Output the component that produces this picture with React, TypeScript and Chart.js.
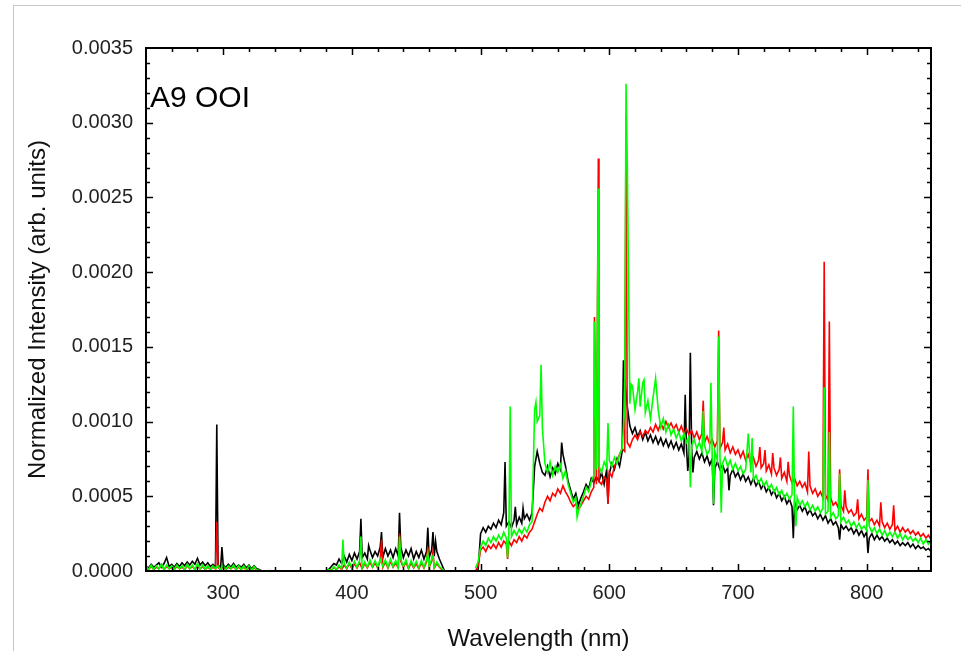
import React, { useEffect, useRef } from 'react';
import { Chart, registerables } from 'chart.js';

Chart.register(...registerables);

// ---------- data (intensity values in units of 1e-4) ----------
const UNIT = 1e-4;
const STEP_NM = 2;

const SEG_A_START = 240; // 240..330 nm
const SEG_B_START = 380; // 380..472 nm
const SEG_C_START = 496; // 496..850 nm

const BLACK_A = [
  0.3, 0.2, 0.45, 0.25, 0.4, 0.55, 0.25, 0.5, 0.9, 0.3,
  0.45, 0.25, 0.5, 0.3, 0.55, 0.35, 0.6, 0.4, 0.65, 0.45,
  0.85, 0.4, 0.6, 0.35, 0.55, 0.3, 0.45, 0.25, 0.4, 0.25,
  0.4, 0.25, 0.45, 0.25, 0.5, 0.25, 0.4, 0.25, 0.45, 0.2,
  0.4, 0.15, 0.35, 0.15, 0.1, 0,
];
const RED_A = [
  0.2, 0.1, 0.3, 0.1, 0.25, 0.15, 0.35, 0.1, 0.3, 0.15,
  0.25, 0.1, 0.3, 0.15, 0.25, 0.1, 0.35, 0.15, 0.3, 0.1,
  0.35, 0.15, 0.3, 0.1, 0.25, 0.1, 0.25, 0.15, 0.25, 0.1,
  0.3, 0.1, 0.25, 0.15, 0.3, 0.1, 0.25, 0.1, 0.25, 0.05,
  0.25, 0.05, 0.2, 0.05, 0.05, 0,
];
const GREEN_A = [
  0.3, 0.1, 0.4, 0.1, 0.35, 0.15, 0.45, 0.1, 0.4, 0.15,
  0.35, 0.1, 0.4, 0.15, 0.35, 0.1, 0.45, 0.15, 0.4, 0.1,
  0.5, 0.15, 0.4, 0.1, 0.35, 0.1, 0.35, 0.15, 0.35, 0.1,
  0.4, 0.1, 0.35, 0.15, 0.4, 0.1, 0.35, 0.1, 0.35, 0.05,
  0.35, 0.05, 0.3, 0.05, 0.05, 0,
];

const BLACK_B = [
  0, 0.1, 0.3, 0.5, 0.4, 0.8, 0.5, 1.0, 0.6, 1.1,
  0.7, 1.2, 0.8, 1.3, 0.9, 1.2, 0.8, 1.4, 0.9, 1.3,
  1.0, 1.6, 0.9, 1.5, 1.0, 1.4, 0.9, 1.5, 1.0, 1.6,
  0.9, 1.4, 1.0, 1.5, 0.8, 1.3, 0.9, 1.4, 0.8, 1.3,
  0.9, 1.4, 1.0, 1.3, 0.8, 0.4, 0,
];
const RED_B = [
  0, 0.08, 0.04, 0.25, 0.08, 0.3, 0.1, 0.4, 0.15, 0.5,
  0.15, 0.5, 0.2, 0.55, 0.15, 0.5, 0.2, 0.6, 0.25, 0.55,
  0.2, 0.65, 0.25, 0.6, 0.2, 0.65, 0.25, 0.55, 0.2, 0.65,
  0.25, 0.6, 0.15, 0.55, 0.2, 0.5, 0.15, 0.55, 0.2, 0.6,
  0.25, 0.65, 0.2, 0.5, 0.25, 0.1, 0,
];
const GREEN_B = [
  0, 0.1, 0.05, 0.3, 0.1, 0.4, 0.15, 0.5, 0.2, 0.6,
  0.2, 0.65, 0.25, 0.7, 0.2, 0.6, 0.25, 0.75, 0.3, 0.7,
  0.25, 0.8, 0.3, 0.75, 0.25, 0.8, 0.3, 0.7, 0.25, 0.8,
  0.3, 0.75, 0.2, 0.7, 0.25, 0.65, 0.2, 0.7, 0.25, 0.75,
  0.3, 0.8, 0.25, 0.6, 0.3, 0.15, 0,
];

const BLACK_C = [
  0, 0,
  2.5, 2.9, 2.6, 3.0, 2.8, 3.2, 2.9, 3.4, 3.1, 3.9,
  3.0, 3.3, 2.9, 3.4, 3.1, 3.6, 3.2, 3.5, 3.8, 3.4,
  3.9, 7.0, 8.0, 7.2, 6.6, 6.4, 7.0, 6.3, 6.9, 6.5,
  7.2, 6.8, 7.8, 7.0, 6.0, 5.4, 4.8, 5.2, 4.4, 4.9,
  5.3, 5.8, 5.5, 6.2, 5.9, 6.3, 6.0, 6.6, 5.8, 6.8,
  6.5, 7.2, 6.8, 7.5, 7.0, 8.0, 12.8, 11.0, 9.7, 9.2,
  9.6, 9.0, 9.4, 8.8, 9.3, 8.7, 9.1, 8.6, 9.0, 8.5,
  8.9, 8.4, 8.8, 8.3, 8.7, 8.2, 8.6, 8.1, 8.5, 7.9,
  8.3, 7.8, 8.2, 7.6, 8.0, 7.5, 7.9, 7.3, 7.7, 7.1,
  7.5, 6.9, 7.3, 6.8, 7.1, 6.6, 6.9, 6.4, 6.8, 6.3,
  6.6, 6.1, 6.5, 6.0, 6.3, 5.8, 6.2, 5.7, 6.0, 5.5,
  5.8, 5.3, 5.6, 5.1, 5.4, 4.9, 5.2, 4.7, 5.0, 4.5,
  4.8, 4.3, 4.6, 4.1, 4.4, 4.0, 4.3, 3.8, 4.1, 3.7,
  3.9, 3.5, 3.8, 3.4, 3.7, 3.2, 3.5, 3.1, 3.3, 2.9,
  3.1, 2.8, 3.0, 2.7, 2.9, 2.5, 2.8, 2.4, 2.7, 2.3,
  2.6, 2.2, 2.5, 2.1, 2.4, 2.1, 2.3, 2.0, 2.2, 1.9,
  2.1, 1.8, 2.0, 1.7, 1.9, 1.7, 1.9, 1.6, 1.8, 1.5,
  1.7, 1.5, 1.6, 1.4, 1.5,
  1.3,
];
const RED_C = [
  0, 0.3,
  1.4, 1.6, 1.3, 1.7, 1.5, 1.8, 1.5, 1.9, 1.6, 2.0,
  1.8, 2.0, 1.7, 2.1, 1.9, 2.3, 2.0, 2.4, 2.2, 2.6,
  2.8, 3.3, 3.8, 4.2, 4.0, 4.6, 5.0, 4.7, 5.2, 5.0,
  5.5, 5.2, 5.7, 5.3, 5.0, 4.6, 4.3, 4.5, 4.1, 4.4,
  4.7, 5.0, 4.8, 5.3, 5.6, 5.8, 6.0, 5.8, 6.3, 6.1,
  6.6, 6.3, 7.0, 7.4, 7.8, 8.2, 8.0, 8.6, 8.3, 8.8,
  9.1, 8.8, 9.3, 9.0, 9.4, 9.2, 9.6, 9.3, 9.8, 9.4,
  9.9, 9.5, 10.0, 9.6, 9.9, 9.5, 9.8, 9.3, 9.7, 9.2,
  9.5, 9.1, 9.4, 8.9, 9.3, 8.8, 9.2, 8.6, 9.0, 8.5,
  8.8, 8.3, 8.7, 8.2, 8.6, 8.1, 8.5, 7.9, 8.3, 7.8,
  8.1, 7.6, 8.0, 7.4, 7.8, 7.2, 7.6, 7.0, 7.4, 6.9,
  7.2, 6.7, 7.1, 6.5, 6.9, 6.4, 6.8, 6.2, 6.6, 6.0,
  6.4, 5.9, 6.2, 5.7, 6.0, 5.6, 5.9, 5.3, 5.7, 5.2,
  5.5, 5.0, 5.3, 4.9, 5.1, 4.7, 4.9, 4.4, 4.6, 4.2,
  4.4, 4.0, 4.3, 3.9, 4.1, 3.7, 3.9, 3.5, 3.8, 3.4,
  3.6, 3.3, 3.5, 3.1, 3.4, 3.0, 3.3, 2.9, 3.2, 2.8,
  3.1, 2.7, 3.0, 2.6, 2.9, 2.6, 2.8, 2.5, 2.7, 2.4,
  2.6, 2.3, 2.5, 2.2, 2.4,
  2.1,
];
const GREEN_C = [
  0.2, 0.6,
  1.6, 2.0, 1.7, 2.2, 1.9, 2.3, 2.0, 2.4, 2.1, 2.6,
  2.2, 2.6, 2.3, 2.7, 2.4, 2.8, 2.5, 2.9, 2.6, 3.1,
  3.3, 10.8, 10.0, 10.4, 9.6, 7.2, 6.6, 7.3, 6.4, 7.0,
  6.6, 7.1, 6.2, 6.7, 5.8, 5.2, 4.6, 4.9, 4.0, 4.5,
  5.0, 5.6, 5.3, 6.0, 6.4, 6.8, 7.0, 6.6, 7.3, 6.9,
  7.4, 7.0, 7.6, 7.2, 7.8, 8.2, 11.0, 12.0, 11.2, 12.4,
  10.8, 12.0, 11.0, 12.6, 10.6, 11.4, 10.2, 11.6, 10.0, 10.8,
  9.6, 10.2, 9.3, 9.8, 9.1, 9.5, 8.9, 9.3, 8.7, 9.2,
  8.6, 9.0, 8.4, 8.8, 8.2, 8.6, 8.0, 8.4, 7.8, 8.1,
  7.6, 8.0, 7.4, 7.8, 7.2, 7.6, 7.0, 7.4, 6.8, 7.2,
  6.7, 7.0, 6.5, 6.8, 6.3, 6.6, 6.1, 6.4, 5.9, 6.2,
  5.7, 6.0, 5.5, 5.8, 5.3, 5.6, 5.1, 5.4, 4.9, 5.2,
  4.8, 5.1, 4.6, 4.9, 4.4, 4.7, 4.3, 4.6, 4.1, 4.4,
  4.0, 4.3, 3.9, 4.2, 3.8, 4.0, 3.6, 3.9, 3.5, 3.7,
  3.3, 3.6, 3.2, 3.4, 3.0, 3.3, 2.9, 3.2, 2.8, 3.0,
  2.7, 3.0, 2.6, 2.9, 2.5, 2.8, 2.4, 2.7, 2.3, 2.6,
  2.3, 2.6, 2.2, 2.5, 2.1, 2.4, 2.1, 2.3, 2.0, 2.2,
  1.9, 2.2, 1.8, 2.1, 1.8,
  2.0,
];

// emission lines / narrow features: [wavelength nm, value]
const BLACK_LINES: [number, number][] = [
  [295, 9.8], [299, 1.6], [407, 3.5], [413, 1.7], [423, 2.6], [437, 3.9],
  [459, 2.9], [463, 2.6], [465, 2.0], [519, 7.3], [527, 4.3], [533, 4.2],
  [563, 8.6], [599, 4.5], [611, 14.1], [659, 11.8], [661, 6.7], [663, 14.6],
  [665, 6.6], [681, 4.4], [693, 5.4], [743, 2.2], [779, 2.1], [801, 1.2],
];
const RED_LINES: [number, number][] = [
  [295, 3.3], [423, 2.1], [437, 2.5], [459, 1.6], [463, 1.3], [521, 0.8],
  [588.5, 17.0], [591.5, 27.6], [599, 4.5], [613, 30.5], [673, 11.4],
  [685, 16.1], [689, 9.6], [717, 8.3], [721, 8.1], [727, 7.9], [733, 7.6],
  [739, 7.3], [755, 8.0], [767, 20.7], [771, 16.7], [779, 6.8], [783, 5.4],
  [793, 4.8], [801, 6.8], [811, 4.6], [821, 4.4],
];
const GREEN_LINES: [number, number][] = [
  [393, 2.1], [407, 2.3], [437, 2.3], [459, 1.2], [463, 1.0], [521, 0.9],
  [523, 11.0], [543, 11.3], [547, 13.8], [575, 3.6], [588.5, 16.7],
  [591.5, 25.6], [599, 9.9], [613, 32.6], [614, 27.2], [617, 12.5],
  [623, 12.9], [627, 12.8], [636, 12.9], [663, 5.6], [673, 10.7],
  [679, 12.6], [681, 4.5], [685, 15.7], [687, 3.9], [708, 9.2], [711, 8.9],
  [743, 11.0], [745, 3.0], [767, 12.3], [771, 9.3], [779, 6.5], [801, 6.1],
];

const X_TICKS = [300, 400, 500, 600, 700, 800];
const Y_TICKS = [0, 0.0005, 0.001, 0.0015, 0.002, 0.0025, 0.003, 0.0035];
const X_MIN = 240;
const X_MAX = 850;
const Y_MIN = 0;
const Y_MAX = 0.0035;

const X_TITLE = 'Wavelength (nm)';
const Y_TITLE = 'Normalized Intensity (arb. units)';
const PANEL_LABEL = 'A9 OOI';

const SERIES_COLORS = { black: '#000000', red: '#ff0000', green: '#00ff00' };

// ---------- helpers ----------
type Pt = { x: number; y: number | null };

function buildSeries(
  segments: { start: number; values: number[] }[],
  lines: [number, number][],
  breakBetween: boolean
): Pt[] {
  const out: Pt[] = [];
  let prevEnd: number | null = null;
  segments.forEach((seg) => {
    const end = seg.start + (seg.values.length - 1) * STEP_NM;
    const map = new Map<number, number>();
    seg.values.forEach((v, i) => map.set(seg.start + i * STEP_NM, v));
    lines
      .filter(([x]) => x >= seg.start && x <= end)
      .forEach(([x, v]) => map.set(x, v));
    const xs = Array.from(map.keys()).sort((a, b) => a - b);
    if (prevEnd !== null && breakBetween) {
      out.push({ x: (prevEnd + seg.start) / 2, y: null });
    }
    xs.forEach((x) => out.push({ x, y: (map.get(x) as number) * UNIT }));
    prevEnd = end;
  });
  return out;
}

const FONT = '"Liberation Sans", Arial, Helvetica, sans-serif';

const framePlugin = {
  id: 'frameTicks',
  afterDraw(chart: any) {
    const { ctx, chartArea, scales } = chart;
    const { left, right, top, bottom } = chartArea;
    const xs = scales.x;
    const ys = scales.y;
    ctx.save();
    ctx.strokeStyle = '#000';
    ctx.lineWidth = 1.5;
    ctx.beginPath();
    for (let v = X_MIN + 20; v < X_MAX; v += 20) {
      const px = Math.round(xs.getPixelForValue(v)) + 0.5;
      const len = v % 100 === 0 ? 7 : 4;
      ctx.moveTo(px, bottom);
      ctx.lineTo(px, bottom - len);
      ctx.moveTo(px, top);
      ctx.lineTo(px, top + len);
    }
    for (let i = 1; i < 35; i++) {
      const py = Math.round(ys.getPixelForValue(i * 0.0001)) + 0.5;
      const len = i % 5 === 0 ? 7 : 4;
      ctx.moveTo(left, py);
      ctx.lineTo(left + len, py);
      ctx.moveTo(right, py);
      ctx.lineTo(right - len, py);
    }
    ctx.stroke();
    ctx.lineWidth = 2;
    ctx.strokeRect(left, top, right - left, bottom - top);
    ctx.fillStyle = '#000';
    ctx.font = `30px ${FONT}`;
    ctx.textBaseline = 'alphabetic';
    ctx.textAlign = 'left';
    ctx.fillText(PANEL_LABEL, left + 4, top + 59);
    ctx.restore();
  },
};

export default function App() {
  const ref = useRef<HTMLCanvasElement | null>(null);

  useEffect(() => {
    if (!ref.current) return;
    const black = buildSeries(
      [
        { start: SEG_A_START, values: BLACK_A },
        { start: SEG_B_START, values: BLACK_B },
        { start: SEG_C_START, values: BLACK_C },
      ],
      BLACK_LINES,
      false
    );
    const red = buildSeries(
      [
        { start: SEG_A_START, values: RED_A },
        { start: SEG_B_START, values: RED_B },
        { start: SEG_C_START, values: RED_C },
      ],
      RED_LINES,
      true
    );
    const green = buildSeries(
      [
        { start: SEG_A_START, values: GREEN_A },
        { start: SEG_B_START, values: GREEN_B },
        { start: SEG_C_START, values: GREEN_C },
      ],
      GREEN_LINES,
      true
    );

    const lineDs = (data: Pt[], color: string, order: number) => ({
      data,
      borderColor: color,
      backgroundColor: color,
      borderWidth: 1.6,
      pointRadius: 0,
      tension: 0,
      spanGaps: false,
      fill: false,
      order,
    });

    const chart = new Chart(ref.current, {
      type: 'line',
      data: {
        datasets: [
          lineDs(black, SERIES_COLORS.black, 3),
          lineDs(red, SERIES_COLORS.red, 2),
          lineDs(green, SERIES_COLORS.green, 1),
        ] as any,
      },
      options: {
        responsive: false,
        maintainAspectRatio: false,
        devicePixelRatio: 1,
        animation: false,
        events: [],
        layout: { padding: { top: 48, right: 30, bottom: 0, left: 0 } },
        plugins: { legend: { display: false }, tooltip: { enabled: false } },
        scales: {
          x: {
            type: 'linear',
            min: X_MIN,
            max: X_MAX,
            afterBuildTicks: (s: any) => {
              s.ticks = X_TICKS.map((v) => ({ value: v }));
            },
            afterFit: (s: any) => {
              s.height = 80;
            },
            grid: { display: false, drawTicks: false },
            border: { display: false },
            ticks: {
              padding: 10,
              color: '#222',
              font: { family: FONT, size: 20 },
              maxRotation: 0,
              autoSkip: false,
              callback: (v: any) => String(v),
            },
            title: {
              display: true,
              text: X_TITLE,
              color: '#111',
              font: { family: FONT, size: 24 },
              padding: { top: 0, bottom: -3 },
            },
          },
          y: {
            type: 'linear',
            min: Y_MIN,
            max: Y_MAX,
            afterBuildTicks: (s: any) => {
              s.ticks = Y_TICKS.map((v) => ({ value: v }));
            },
            afterFit: (s: any) => {
              s.width = 146;
            },
            grid: { display: false, drawTicks: false },
            border: { display: false },
            ticks: {
              padding: 13,
              color: '#222',
              font: { family: FONT, size: 20 },
              autoSkip: false,
              callback: (v: any) => Number(v).toFixed(4),
            },
            title: {
              display: true,
              text: Y_TITLE,
              color: '#111',
              font: { family: FONT, size: 24 },
              padding: { top: 24, bottom: 0 },
            },
          },
        },
      } as any,
      plugins: [framePlugin],
    });
    return () => chart.destroy();
  }, []);

  return (
    <div
      style={{
        position: 'fixed',
        left: 0,
        top: 0,
        width: 961,
        height: 651,
        background: '#fff',
        overflow: 'hidden',
      }}
    >
      <div
        style={{
          position: 'absolute',
          left: 13,
          top: 5,
          right: 0,
          bottom: 0,
          borderTop: '1px solid #c8c8c8',
          borderLeft: '1px solid #c8c8c8',
        }}
      />
      <canvas
        ref={ref}
        width={961}
        height={651}
        style={{ position: 'absolute', left: 0, top: 0, width: 961, height: 651 }}
      />
    </div>
  );
}
